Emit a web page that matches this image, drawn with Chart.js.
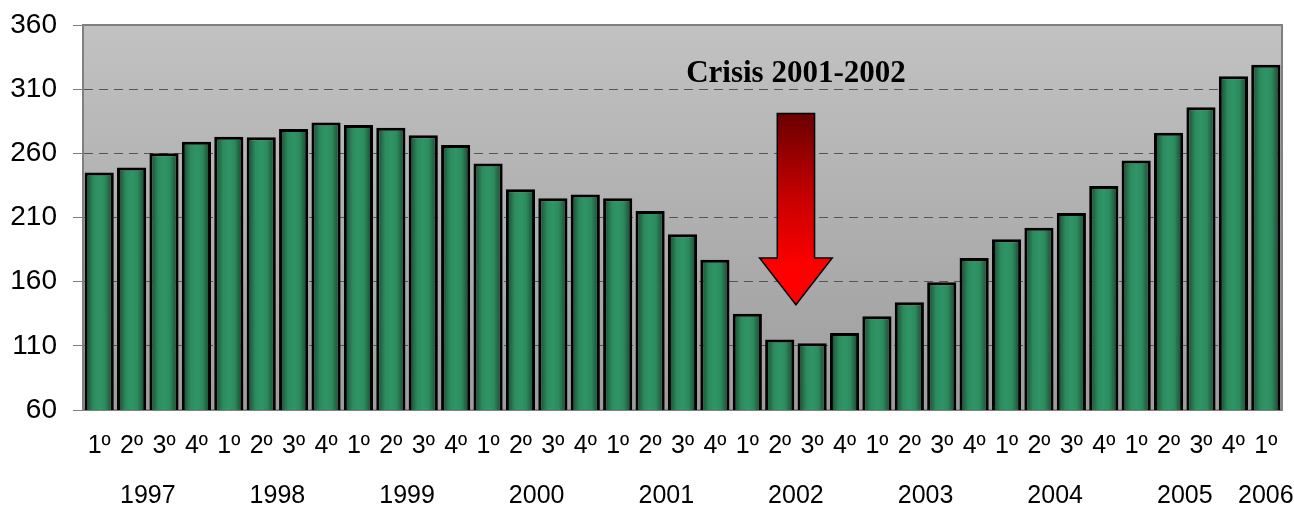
<!DOCTYPE html>
<html><head><meta charset="utf-8">
<script src="https://cdn.jsdelivr.net/npm/chart.js@4/dist/chart.umd.min.js"></script>
<style>html,body{margin:0;padding:0;background:#fff;}#wrap{width:1294px;height:507px;position:relative;}</style>
</head><body><div id="wrap"><canvas id="c"></canvas></div>
<script>
const quarterLabels = ['1º','2º','3º','4º','1º','2º','3º','4º','1º','2º','3º','4º','1º','2º','3º','4º','1º','2º','3º','4º','1º','2º','3º','4º','1º','2º','3º','4º','1º','2º','3º','4º','1º','2º','3º','4º','1º'];
const yearLabels = ['1997','1998','1999','2000','2001','2002','2003','2004','2005','2006'];
const quartersPerYear = [4,4,4,4,4,4,4,4,4,1];
const values = [245,249,260,269,273,272.5,279,284,282,280,274,266.5,252,232,225,228,225,215,197,177,135,115,112,120,133,144,159.5,178.5,193,202,213.5,234.5,254.5,276,296,320,329];
const yMin = 60, yMax = 360, yStep = 50;
const crisisText = 'Crisis 2001-2002';
const crisisBetween = [21,22];          // arrow sits between these category indices
const arrowValues = [291,178.5,142];    // shaft top, head base, tip (data units)

const plotBg = {
  id:'plotBg',
  beforeDraw(chart){
    const {ctx, chartArea:a} = chart;
    const g = ctx.createLinearGradient(0,a.top,0,a.bottom);
    g.addColorStop(0,'#c2c2c2'); g.addColorStop(1,'#9d9d9d');
    ctx.save(); ctx.fillStyle = g; ctx.fillRect(a.left,a.top,a.right-a.left,a.bottom-a.top); ctx.restore();
  },
  beforeDatasetsDraw(chart){
    const {ctx, chartArea:a} = chart;
    ctx.save(); ctx.strokeStyle='#808080'; ctx.lineWidth=2;
    ctx.beginPath(); ctx.moveTo(a.left,a.top); ctx.lineTo(a.right,a.top); ctx.lineTo(a.right,a.bottom); ctx.stroke();
    ctx.restore();
  },
  afterDatasetsDraw(chart){
    const {ctx} = chart; const xs = chart.scales.x, ys = chart.scales.y;
    const cx = (xs.getPixelForValue(crisisBetween[0]) + xs.getPixelForValue(crisisBetween[1]))/2;
    const cw = xs.getPixelForValue(1) - xs.getPixelForValue(0);
    const sh = cw*0.575, hh = cw*1.12;
    const yTop = ys.getPixelForValue(arrowValues[0]);
    const yHead = ys.getPixelForValue(arrowValues[1]);
    const yTip = ys.getPixelForValue(arrowValues[2]);
    ctx.save();
    const g = ctx.createLinearGradient(0,yTop,0,yHead+10);
    g.addColorStop(0,'#6a0000'); g.addColorStop(0.55,'#c80000'); g.addColorStop(1,'#ff0000');
    ctx.beginPath();
    ctx.moveTo(cx-sh,yTop); ctx.lineTo(cx+sh,yTop); ctx.lineTo(cx+sh,yHead); ctx.lineTo(cx+hh,yHead);
    ctx.lineTo(cx,yTip); ctx.lineTo(cx-hh,yHead); ctx.lineTo(cx-sh,yHead); ctx.closePath();
    ctx.fillStyle = g; ctx.fill();
    ctx.lineWidth = 1.5; ctx.strokeStyle = '#000'; ctx.lineJoin='miter'; ctx.stroke();
    ctx.fillStyle = '#000'; ctx.font = 'bold 31px "Liberation Serif", "Times New Roman", serif';
    ctx.textAlign = 'center'; ctx.textBaseline = 'alphabetic';
    ctx.fillText(crisisText, cx, 82);
    ctx.restore();
  },
  afterDraw(chart){
    const {ctx} = chart; const xs = chart.scales.x;
    ctx.save(); ctx.fillStyle='#000'; ctx.font='25px "Liberation Sans", Arial, sans-serif';
    ctx.textAlign='center'; ctx.textBaseline='alphabetic';
    let idx = 0;
    yearLabels.forEach((yl,i)=>{
      const first = idx, last = idx + quartersPerYear[i] - 1;
      const x = (xs.getPixelForValue(first) + xs.getPixelForValue(last))/2;
      ctx.fillText(yl, x, 503);
      idx += quartersPerYear[i];
    });
    ctx.restore();
  }
};

function barGradient(c){
  const chart = c.chart, xs = chart.scales && chart.scales.x;
  if (!chart.chartArea || !xs || c.dataIndex === undefined) return '#2e9464';
  const cx = xs.getPixelForValue(c.dataIndex);
  const w = (xs.getPixelForValue(1) - xs.getPixelForValue(0))*0.9;
  const g = chart.ctx.createLinearGradient(cx-w/2,0,cx+w/2,0);
  g.addColorStop(0,'#173f2b'); g.addColorStop(0.3,'#2c8b5d'); g.addColorStop(0.5,'#2f9566');
  g.addColorStop(0.7,'#2c8b5d'); g.addColorStop(1,'#163c29');
  return g;
}

new Chart(document.getElementById('c'), {
  type:'bar',
  data:{ labels: quarterLabels, datasets:[{ data: values, backgroundColor: barGradient, borderColor:'#000', borderWidth:3, borderSkipped:false, barPercentage:0.9, categoryPercentage:1 }]},
  options:{
    responsive:true, maintainAspectRatio:false, animation:false,
    layout:{ padding:{ top:25, right:12, left:0, bottom:0 } },
    plugins:{ legend:{display:false}, tooltip:{enabled:false} },
    scales:{
      x:{
        grid:{ display:false, drawTicks:false },
        border:{ display:true, color:'#808080', width:2 },
        ticks:{ color:'#000', font:{ family:'"Liberation Sans", Arial, sans-serif', size:25 }, padding:21, maxRotation:0, autoSkip:false },
        afterFit(s){ s.height = 97; s.paddingLeft = 0; s.paddingRight = 0; }
      },
      y:{
        min:yMin, max:yMax,
        grid:{ color:'#555', lineWidth:1, tickLength:10, tickColor:'#808080', tickBorderDash:[], drawTicks:true },
        border:{ display:true, color:'#808080', width:2, dash:[9,6] },
        ticks:{ stepSize:yStep, color:'#000', font:{ family:'"Liberation Sans", Arial, sans-serif', size:28 }, padding:16 },
        afterFit(s){ s.width = 83; s.paddingTop = 0; s.paddingBottom = 0; }
      }
    }
  },
  plugins:[plotBg]
});
</script></body></html>
